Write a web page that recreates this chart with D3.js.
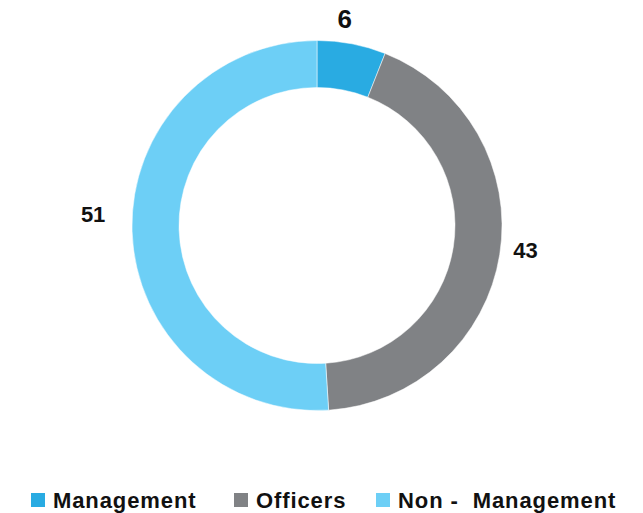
<!DOCTYPE html>
<html>
<head>
<meta charset="utf-8">
<script src="https://cdn.jsdelivr.net/npm/d3@7"></script>
<style>
  body { margin: 0; background: #fff; }
  text { font-family: "Liberation Sans", Arial, sans-serif; font-weight: bold; fill: #111; }
</style>
</head>
<body>
<script>
//W and H
var w = 643;
var h = 513;

//data
var categories = ["Management", "Officers", "Non -  Management"];
var values = [6, 43, 51];
var colors = ["#29abe2", "#808285", "#6dcff6"];

//layout
var cx = 317, cy = 225.5;
var outerR = 185, innerR = 138;
var labelR = 212;
var labelSize = [26, 22, 22];
var labelNudge = [[-12, 2], [-1, -8], [-12, -18]];

var svg = d3.select("body")
    .append("svg")
    .attr("width", w)
    .attr("height", h);

var pie = d3.pie().sort(null).value(function(d) { return d; });
var arcs = pie(values);

var arc = d3.arc().innerRadius(innerR).outerRadius(outerR);
var labelArc = d3.arc().innerRadius(labelR).outerRadius(labelR);

var g = svg.append("g")
    .attr("transform", "translate(" + cx + "," + cy + ")");

g.selectAll("path")
    .data(arcs)
    .enter()
    .append("path")
    .attr("d", arc)
    .attr("fill", function(d, i) { return colors[i]; })
    .attr("stroke", "#fff")
    .attr("stroke-width", 0.5);

//value labels
g.selectAll("text.value")
    .data(arcs)
    .enter()
    .append("text")
    .attr("class", "value")
    .attr("x", function(d, i) { return labelArc.centroid(d)[0] + labelNudge[i][0]; })
    .attr("y", function(d, i) { return labelArc.centroid(d)[1] + labelNudge[i][1]; })
    .attr("text-anchor", "middle")
    .attr("dominant-baseline", "central")
    .style("font-size", function(d, i) { return labelSize[i] + "px"; })
    .text(function(d) { return d.data; });

//legend
var legendX = [31, 234, 376];
var legend = svg.append("g").attr("transform", "translate(0,500)");

var item = legend.selectAll("g")
    .data(categories)
    .enter()
    .append("g")
    .attr("transform", function(d, i) { return "translate(" + legendX[i] + ",0)"; });

item.append("rect")
    .attr("x", 0)
    .attr("y", -7)
    .attr("width", 14)
    .attr("height", 14)
    .attr("fill", function(d, i) { return colors[i]; });

item.append("text")
    .attr("x", 22)
    .attr("y", 7.5)
    .style("font-size", "22px")
    .style("letter-spacing", "0.9px")
    .style("white-space", "pre")
    .text(function(d) { return d; });
</script>
</body>
</html>
